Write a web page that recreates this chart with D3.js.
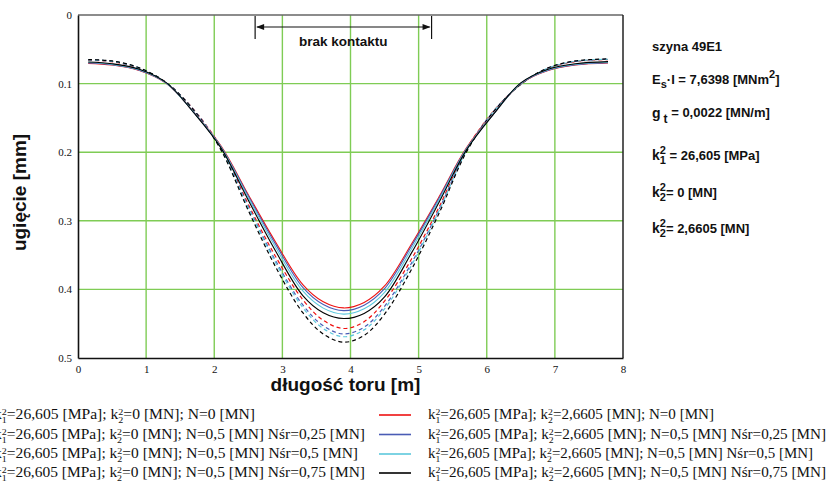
<!DOCTYPE html>
<html>
<head>
<meta charset="utf-8">
<script src="https://cdn.jsdelivr.net/npm/d3@7"></script>
<style>
  html, body { margin: 0; padding: 0; background: #fff; }
  svg { display: block; }
</style>
</head>
<body>
<svg id="chart" width="826" height="488"></svg>
<script>
// Rail deflection along the track, model with a no-contact zone
const positions = [0.15, 0.5, 0.9, 1.3, 1.7, 2.1, 2.5, 2.9, 3.3, 3.6, 3.9, 4.2, 4.5, 4.9, 5.3, 5.7, 6.1, 6.5, 6.9, 7.3, 7.78];

// k2 = 0 [MN]
const k0_N0     = [0.0705, 0.073, 0.081, 0.100, 0.142, 0.191, 0.262, 0.331, 0.393, 0.418, 0.427, 0.419, 0.395, 0.333, 0.265, 0.194, 0.144, 0.100, 0.081, 0.073, 0.070];
const k0_N025   = [0.070, 0.0725, 0.0805, 0.0997, 0.142, 0.192, 0.264, 0.334, 0.397, 0.422, 0.431, 0.423, 0.399, 0.336, 0.267, 0.195, 0.144, 0.0997, 0.0805, 0.0725, 0.0695];
const k0_N05    = [0.0693, 0.0718, 0.0798, 0.0994, 0.1423, 0.1927, 0.2666, 0.3385, 0.4023, 0.4273, 0.436, 0.4283, 0.4043, 0.3405, 0.2696, 0.1957, 0.1443, 0.0994, 0.0798, 0.0718, 0.0688];
const k0_N075   = [0.0685, 0.071, 0.079, 0.099, 0.1425, 0.194, 0.270, 0.344, 0.409, 0.434, 0.4425, 0.435, 0.411, 0.346, 0.273, 0.197, 0.1445, 0.099, 0.079, 0.071, 0.068];
// k2 = 2,6605 [MN]
const k26_N0    = [0.066, 0.068, 0.078, 0.099, 0.138, 0.193, 0.276, 0.352, 0.415, 0.445, 0.457, 0.447, 0.417, 0.355, 0.280, 0.196, 0.140, 0.101, 0.078, 0.068, 0.065];
const k26_N025  = [0.0655, 0.0675, 0.0775, 0.099, 0.1384, 0.1946, 0.2796, 0.358, 0.4226, 0.453, 0.465, 0.455, 0.4246, 0.361, 0.2836, 0.1976, 0.1404, 0.101, 0.0775, 0.0675, 0.0645];
const k26_N05   = [0.0655, 0.0675, 0.0775, 0.099, 0.1386, 0.1954, 0.2814, 0.361, 0.4264, 0.457, 0.469, 0.459, 0.4284, 0.364, 0.2854, 0.1984, 0.1406, 0.101, 0.0775, 0.0675, 0.0645];
const k26_N075  = [0.065, 0.067, 0.077, 0.099, 0.139, 0.197, 0.285, 0.367, 0.434, 0.465, 0.477, 0.467, 0.436, 0.370, 0.289, 0.200, 0.141, 0.101, 0.077, 0.067, 0.064];

const xTicks = [0, 1, 2, 3, 4, 5, 6, 7, 8];
const yTicks = [0, 0.1, 0.2, 0.3, 0.4, 0.5];
const noContact = [2.6, 5.19];

const seriesColors = ["#ee1111", "#4a5cb5", "#5cc8dc", "#000000"];
const forceLabels = ["N=0 [MN]", "N=0,5 [MN] N\u015Br=0,25 [MN]", "N=0,5 [MN] N\u015Br=0,5 [MN]", "N=0,5 [MN] N\u015Br=0,75 [MN]"];

const solidSeries = [k0_N0, k0_N025, k0_N05, k0_N075];
const dashedSeries = [k26_N0, k26_N025, k26_N05, k26_N075];

const svg = d3.select("#chart");
const plot = { left: 78, right: 623, top: 15, bottom: 358 };

const x = d3.scaleLinear().domain([0, 8]).range([plot.left, plot.right]);
const y = d3.scaleLinear().domain([0, 0.5]).range([plot.top, plot.bottom]);

const gridColor = "#7fcc55";
const serif = "'Liberation Serif', 'Times New Roman', serif";
const sans = "'Liberation Sans', Arial, sans-serif";

// grid
const grid = svg.append("g");
grid.selectAll("line.vx").data(xTicks.slice(1, -1)).join("line")
  .attr("x1", d => x(d)).attr("x2", d => x(d))
  .attr("y1", plot.top).attr("y2", plot.bottom)
  .attr("stroke", gridColor).attr("stroke-width", 1.4);
grid.selectAll("line.hy").data(yTicks.slice(1, -1)).join("line")
  .attr("x1", plot.left).attr("x2", plot.right)
  .attr("y1", d => y(d)).attr("y2", d => y(d))
  .attr("stroke", gridColor).attr("stroke-width", 1.4);

// frame
svg.append("line").attr("x1", plot.left).attr("x2", plot.right).attr("y1", plot.top).attr("y2", plot.top)
  .attr("stroke", "#666").attr("stroke-width", 1.5);
svg.append("line").attr("x1", plot.right).attr("x2", plot.right).attr("y1", plot.top).attr("y2", plot.bottom)
  .attr("stroke", "#222").attr("stroke-width", 1.5);

// axes
const xAxis = svg.append("g").attr("transform", `translate(0,${plot.bottom})`)
  .call(d3.axisBottom(x).tickValues(xTicks).tickSize(0).tickPadding(7).tickFormat(d3.format("d")));
const yAxis = svg.append("g").attr("transform", `translate(${plot.left},0)`)
  .call(d3.axisLeft(y).tickValues(yTicks).tickSize(0).tickPadding(6).tickFormat(d => d === 0 ? "0" : d3.format(".1f")(d)));
[xAxis, yAxis].forEach(a => {
  a.attr("font-family", serif).attr("font-size", 11);
  a.select(".domain").attr("stroke", "#111").attr("stroke-width", 1.6);
  a.selectAll("text").attr("fill", "#111");
});

// curves
const line = d3.line().x((d, i) => x(positions[i])).y(d => y(d)).curve(d3.curveCatmullRom.alpha(0.5));
const curves = svg.append("g").attr("fill", "none");
dashedSeries.forEach((s, i) => {
  curves.append("path").attr("d", line(s)).attr("stroke", seriesColors[i])
    .attr("stroke-width", 1.2).attr("stroke-dasharray", "4,3");
});
solidSeries.forEach((s, i) => {
  curves.append("path").attr("d", line(s)).attr("stroke", seriesColors[i]).attr("stroke-width", 1.1);
});

// no-contact bracket
const br = svg.append("g");
const bx0 = x(noContact[0]), bx1 = x(noContact[1]);
const by = 27;
br.selectAll("line.bar").data([bx0, bx1]).join("line")
  .attr("x1", d => d).attr("x2", d => d).attr("y1", 16).attr("y2", 39)
  .attr("stroke", "#111").attr("stroke-width", 1.2);
br.append("line").attr("x1", bx0 + 2).attr("x2", bx1 - 2).attr("y1", by).attr("y2", by)
  .attr("stroke", "#111").attr("stroke-width", 1.2);
br.append("path").attr("d", `M${bx0 + 1},${by} l8,-3 l0,6 z`).attr("fill", "#111");
br.append("path").attr("d", `M${bx1 - 1},${by} l-8,-3 l0,6 z`).attr("fill", "#111");
br.append("text").attr("x", (bx0 + bx1) / 2).attr("y", 46).attr("text-anchor", "middle")
  .attr("font-family", sans).attr("font-weight", "bold").attr("font-size", 13.5).attr("fill", "#111")
  .text("brak kontaktu");

// axis titles
svg.append("text").attr("x", x(4) - 5).attr("y", 391).attr("text-anchor", "middle")
  .attr("font-family", sans).attr("font-weight", "bold").attr("font-size", 19).attr("fill", "#111")
  .text("d\u0142ugo\u015B\u0107 toru [m]");
svg.append("text").attr("transform", `translate(26,${(plot.top + plot.bottom) / 2 + 6}) rotate(-90)`)
  .attr("text-anchor", "middle")
  .attr("font-family", sans).attr("font-weight", "bold").attr("font-size", 19).attr("fill", "#111")
  .text("ugi\u0119cie [mm]");

// stacked superscript / subscript after a letter
function stacked(t, sup, sub, size, up, down, w) {
  t.append("tspan").attr("font-size", size).attr("dy", -up).text(sup);
  t.append("tspan").attr("font-size", size).attr("dx", -w).attr("dy", up + down).text(sub);
  return -down;
}

// parameter notes on the right
const notes = svg.append("g").attr("font-family", sans).attr("font-weight", "bold")
  .attr("font-size", 13).attr("fill", "#111");
const nx = 652;
notes.append("text").attr("x", nx).attr("y", 51).text("szyna 49E1");
{
  const t = notes.append("text").attr("x", nx).attr("y", 84);
  t.append("tspan").text("E");
  t.append("tspan").attr("font-size", 11).attr("dy", 4).text("s");
  t.append("tspan").attr("dy", -4).text("\u00B7I = 7,6398 [MNm");
  t.append("tspan").attr("font-size", 11).attr("dy", -6).text("2");
  t.append("tspan").attr("dy", 6).text("]");
}
{
  const t = notes.append("text").attr("x", nx).attr("y", 118);
  t.append("tspan").attr("font-size", 14).text("g");
  t.append("tspan").attr("font-size", 12).attr("dx", 3).attr("dy", 5).text("t");
  t.append("tspan").attr("dy", -6).text(" = 0,0022 [MN/m]");
}
[["2", "1", " = 26,605 [MPa]", 160], ["2", "2", "= 0  [MN]", 197], ["2", "2", "= 2,6605 [MN]", 233]].forEach(([a, b, rest, yy]) => {
  const t = notes.append("text").attr("x", nx).attr("y", yy);
  t.append("tspan").attr("font-size", 14).text("k");
  const back = stacked(t, a, b, 11, 6, 4, 6.1);
  t.append("tspan").attr("dy", back).text(rest);
});

// legend
const legend = svg.append("g").attr("font-family", serif).attr("font-size", 14).attr("fill", "#111");
const rowsY = [419, 438.5, 458, 477];
const leftEnds = [255, 365, 358, 365];
const rightEnds = [714, 826, 813, 826];
function legendText(xPos, yPos, k2, force, endX) {
  const t = legend.append("text").attr("x", xPos).attr("y", yPos);
  t.append("tspan").text("k");
  let back = stacked(t, "2", "1", 9, 4, 4, 4.5);
  t.append("tspan").attr("dy", back).text("=26,605 [MPa]; k");
  back = stacked(t, "2", "2", 9, 4, 4, 4.5);
  t.append("tspan").attr("dy", back).text(`=${k2} [MN]; ${force}`);
  t.attr("textLength", endX - xPos).attr("lengthAdjust", "spacingAndGlyphs");
}
forceLabels.forEach((f, i) => {
  legendText(-6, rowsY[i], "0 ", f, leftEnds[i]);
  legend.append("line").attr("x1", 379).attr("x2", 411).attr("y1", rowsY[i] - 4).attr("y2", rowsY[i] - 4)
    .attr("stroke", seriesColors[i]).attr("stroke-width", 1.6);
  legendText(428, rowsY[i], "2,6605", f, rightEnds[i]);
});
</script>
</body>
</html>
